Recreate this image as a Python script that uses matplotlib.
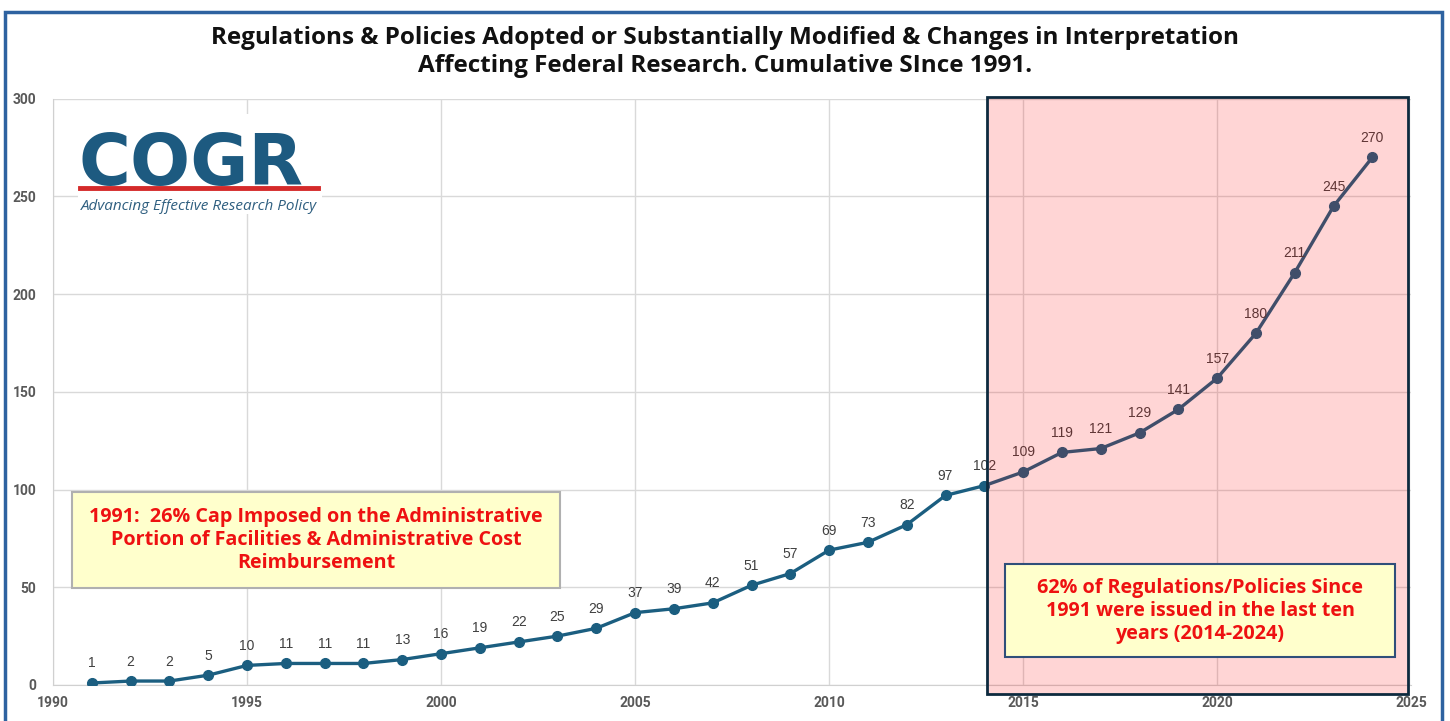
import matplotlib.pyplot as plt
from matplotlib.patches import Rectangle
from matplotlib.lines import Line2D

# data
years = list(range(1991, 2025))
counts = [1, 2, 2, 5, 10, 11, 11, 11, 13, 16, 19, 22, 25, 29, 37, 39, 42, 51,
          57, 69, 73, 82, 97, 102, 109, 119, 121, 129, 141, 157, 180, 211, 245, 270]
x_ticks = [1990, 1995, 2000, 2005, 2010, 2015, 2020, 2025]
y_ticks = [0, 50, 100, 150, 200, 250, 300]

title = ("Regulations & Policies Adopted or Substantially Modified & Changes in Interpretation\n"
         "Affecting Federal Research. Cumulative SInce 1991.")
note_left = ("1991:  26% Cap Imposed on the Administrative\n"
             "Portion of Facilities & Administrative Cost\nReimbursement")
note_right = "62% of Regulations/Policies Since\n1991 were issued in the last ten\nyears (2014-2024)"

fig = plt.figure(figsize=(14.5, 7.21), dpi=100)
ax = fig.add_axes([0.0366, 0.050, 0.9366, 0.813])

ax.plot(years, counts, color='#1b5e80', lw=2.4, marker='o', ms=7, zorder=3)
for x, y in zip(years, counts):
    ax.annotate(str(y), (x, y), xytext=(0, 9), textcoords='offset points',
                ha='center', va='bottom', fontsize=10, color='#404040',
                family='Liberation Sans', zorder=4)

ax.set_xlim(1990, 2025)
ax.set_ylim(0, 300)
ax.set_xticks(x_ticks)
ax.set_yticks(y_ticks)
ax.grid(True, color='#d9d9d9', lw=1)
ax.set_axisbelow(True)
for s in ['top', 'right']:
    ax.spines[s].set_visible(False)
for s in ['left', 'bottom']:
    ax.spines[s].set_color('#d0d0d0')
ax.tick_params(length=0, labelsize=10, labelcolor='#595959', pad=8)
for lab in ax.get_xticklabels() + ax.get_yticklabels():
    lab.set_fontweight('bold')
    lab.set_family('Roboto')
ax.tick_params(axis='y', pad=12)

# pink highlight for last ten years
ax.add_patch(Rectangle((2014.07, -4.5), 10.85, 305.5, facecolor='#ff0000', alpha=0.165,
                       edgecolor='none', zorder=5, clip_on=False))
ax.add_patch(Rectangle((2014.07, -4.5), 10.85, 305.5, facecolor='none',
                       edgecolor='#0d2a3e', lw=2, zorder=6, clip_on=False))

# notes
fig.patches.append(Rectangle((72 / 1450, 1 - 588 / 721), 488 / 1450, 96 / 721,
                             transform=fig.transFigure, facecolor='#ffffcc',
                             edgecolor='#b0b0b0', lw=1.5, zorder=7))
fig.text(316 / 1450, 1 - 540 / 721, note_left, ha='center', va='center', fontsize=14.2,
         color='#ee1111', fontweight='bold', family='Open Sans', linespacing=1.2, zorder=8)
fig.patches.append(Rectangle((1005 / 1450, 1 - 657 / 721), 390 / 1450, 93 / 721,
                             transform=fig.transFigure, facecolor='#ffffcc',
                             edgecolor='#2f4f7a', lw=1.5, zorder=7))
fig.text(1200 / 1450, 1 - 611 / 721, note_right, ha='center', va='center', fontsize=14.2,
         color='#ee1111', fontweight='bold', family='Open Sans', linespacing=1.2, zorder=8)

# title
fig.text(0.5, 1 - 52 / 721, title, ha='center', va='center', fontsize=17.5,
         fontweight='bold', family='Open Sans', color='#111111', linespacing=1.2)

# logo
fig.patches.append(Rectangle((78 / 1450, 1 - 214 / 721), 244 / 1450, 100 / 721,
                             transform=fig.transFigure, facecolor='white',
                             edgecolor='none', zorder=7))
fig.text(78 / 1450, 1 - 185 / 721, "COGR", ha='left', va='baseline', fontsize=51,
         fontweight='bold', family='DejaVu Sans', color='#1d5a80', zorder=8)
fig.lines.append(Line2D([80 / 1450, 318 / 1450], [1 - 188 / 721, 1 - 188 / 721],
                        transform=fig.transFigure, color='#d42a2a', lw=3.5, zorder=8))
fig.text(81 / 1450, 1 - 206 / 721, "Advancing Effective Research Policy", ha='left',
         va='center', fontsize=11, style='italic', family='Open Sans',
         color='#2f5f80', zorder=8)

# outer frame
fig.patches.append(Rectangle((5 / 1450, -0.02), 1437 / 1450, 1.02 - 12 / 721,
                             transform=fig.transFigure, facecolor='none',
                             edgecolor='#2e62a0', lw=2.5, zorder=9))

fig.savefig('out.png', dpi=100)
